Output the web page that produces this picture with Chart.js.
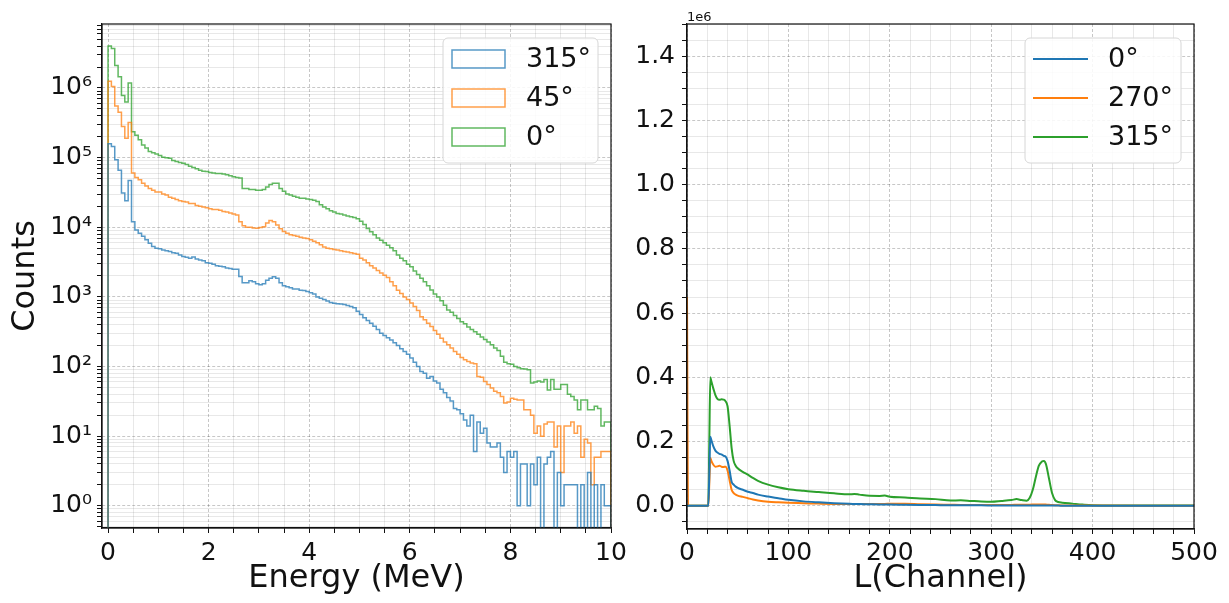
<!DOCTYPE html>
<html>
<head>
<meta charset="utf-8">
<script src="https://cdn.jsdelivr.net/npm/chart.js@4.4.0/dist/chart.umd.min.js"></script>
<style>
  html, body { margin: 0; padding: 0; background: #fff; }
  #wrap { position: relative; width: 1229px; height: 603px; overflow: hidden; }
  canvas { position: absolute; top: 0; }
  #chartEnergy { left: 0; }
  #chartChannel { left: 620px; }
</style>
</head>
<body>
<div id="wrap">
  <canvas id="chartEnergy" width="640" height="603"></canvas>
  <canvas id="chartChannel" width="609" height="603"></canvas>
</div>
<script>
// ---- left panel: energy spectra (150 bins of 1/15 MeV from 0 to 10 MeV) ----
const energyBinWidth = 1 / 15;
const energyLabels = ["315°", "45°", "0°"];

const counts315 = [
  8.4e4, 1.58e5, 1.45e5, 9.3e4, 6.6e4, 3.1e4, 2.4e4, 4.7e4, 1.2e4, 9.1e3,
  8.2e3, 7.4e3, 6.6e3, 5.9e3, 5.3e3, 5.0e3, 4.9e3, 4.7e3, 4.6e3, 4.5e3,
  4.3e3, 4.25e3, 4.0e3, 3.8e3, 3.7e3, 3.6e3, 3.75e3, 3.5e3, 3.4e3, 3.3e3,
  3.1e3, 3.05e3, 2.95e3, 2.8e3, 2.75e3, 2.7e3, 2.6e3, 2.55e3, 2.5e3, 2.5e3,
  1.96e3, 1.6e3, 1.6e3, 1.7e3, 1.65e3, 1.55e3, 1.5e3, 1.55e3, 1.73e3, 1.85e3,
  1.95e3, 1.86e3, 1.6e3, 1.45e3, 1.4e3, 1.35e3, 1.3e3, 1.3e3, 1.25e3, 1.24e3,
  1.2e3, 1.15e3, 1.1e3, 1.0e3, 960, 915, 870, 830, 810, 800,
  790, 780, 750, 730, 700, 620, 560, 500, 460, 420,
  380, 340, 300, 280, 260, 240, 220, 200, 180, 165,
  150, 133, 115, 100, 85, 80, 68, 72, 62, 58,
  47, 42, 36, 32, 25, 24, 21, 17, 14, 20,
  6, 16, 11, 13, 8, 7, 7, 8, 5, 3,
  6, 5, 6, 1, 4, 4, 1, 4, 2, 5,
  0, 4, 5, 6, 0, 3, 1, 2, 2, 2,
  2, 0, 2, 0, 3, 0, 2, 0, 2, 1
];

const counts45 = [
  7.5e5, 1.25e6, 1.05e6, 5.5e5, 4.5e5, 2.8e5, 1.9e5, 3.2e5, 6.0e4, 5.2e4,
  4.8e4, 4.3e4, 3.9e4, 3.6e4, 3.4e4, 3.2e4, 3.2e4, 3.0e4, 2.9e4, 2.7e4,
  2.6e4, 2.5e4, 2.4e4, 2.35e4, 2.3e4, 2.2e4, 2.2e4, 2.05e4, 2.0e4, 1.95e4,
  1.9e4, 1.85e4, 1.8e4, 1.8e4, 1.75e4, 1.68e4, 1.65e4, 1.6e4, 1.55e4, 1.5e4,
  1.2e4, 1.05e4, 1.0e4, 1.0e4, 9.8e3, 9.7e3, 9.9e3, 1.02e4, 1.15e4, 1.25e4,
  1.2e4, 1.08e4, 9.5e3, 8.7e3, 8.2e3, 7.8e3, 7.6e3, 7.4e3, 7.2e3, 7.0e3,
  6.9e3, 6.6e3, 6.3e3, 6.0e3, 5.6e3, 5.2e3, 5.0e3, 4.9e3, 4.8e3, 4.7e3,
  4.6e3, 4.5e3, 4.4e3, 4.3e3, 4.2e3, 4.1e3, 3.6e3, 3.4e3, 3.1e3, 2.8e3,
  2.6e3, 2.4e3, 2.2e3, 2.05e3, 1.9e3, 1.65e3, 1.45e3, 1.25e3, 1.12e3, 1.0e3,
  920, 820, 730, 640, 520, 470, 420, 376, 330, 290,
  255, 225, 205, 185, 165, 150, 135, 125, 118, 112,
  110, 72, 70, 61, 55, 49, 44, 42, 37, 30,
  31, 35, 34, 33, 33, 24, 24, 20, 11, 14,
  10, 15, 16, 16, 7, 14, 3, 14, 14, 16,
  11, 14, 5, 9, 8, 2, 5, 5, 6, 6
];

const counts0 = [
  1.4e6, 4.0e6, 3.7e6, 2.1e6, 1.45e6, 7.8e5, 6.3e5, 1.18e6, 2.36e5, 2.1e5,
  1.8e5, 1.52e5, 1.38e5, 1.22e5, 1.18e5, 1.13e5, 1.07e5, 1.01e5, 1.0e5, 9.8e4,
  9.1e4, 8.8e4, 8.5e4, 8.3e4, 8.0e4, 7.5e4, 7.2e4, 6.9e4, 6.6e4, 6.4e4,
  6.3e4, 6.1e4, 6.0e4, 5.9e4, 5.9e4, 5.8e4, 5.7e4, 5.5e4, 5.3e4, 5.2e4,
  5.1e4, 3.6e4, 3.6e4, 3.5e4, 3.5e4, 3.4e4, 3.4e4, 3.5e4, 3.8e4, 4.1e4,
  4.3e4, 4.3e4, 3.6e4, 3.3e4, 3.0e4, 2.9e4, 2.8e4, 2.7e4, 2.6e4, 2.6e4,
  2.55e4, 2.5e4, 2.45e4, 2.35e4, 2.1e4, 1.95e4, 1.85e4, 1.72e4, 1.65e4, 1.58e4,
  1.55e4, 1.5e4, 1.45e4, 1.42e4, 1.38e4, 1.33e4, 1.22e4, 1.1e4, 9.6e3, 8.6e3,
  7.8e3, 7.0e3, 6.5e3, 6.0e3, 5.5e3, 5.1e3, 4.6e3, 4.0e3, 3.6e3, 3.3e3,
  2.95e3, 2.7e3, 2.35e3, 2.1e3, 1.85e3, 1.65e3, 1.45e3, 1.26e3, 1.1e3, 1.0e3,
  880, 760, 650, 600, 540, 490, 440, 410, 370, 340,
  315, 290, 265, 245, 225, 205, 185, 170, 140, 115,
  110, 108, 100, 96, 93, 92, 90, 58, 60, 62,
  60, 65, 46, 65, 47, 47, 55, 55, 40, 37,
  33, 24, 33, 33, 24, 24, 27, 25, 14, 16
];

const energyMajorTicks = [0, 2, 4, 6, 8, 10];
const energyMinorStep = 0.5;
const countsMajorTicks = [1, 10, 100, 1000, 10000, 100000, 1000000];
const countsMajorLabels = ["10⁰", "10¹", "10²", "10³", "10⁴", "10⁵", "10⁶"];

// ---- right panel: channel spectra ----
const channelLabels = ["0°", "270°", "315°"];
const channels = [
  0, 1, 21, 22, 23, 24, 26, 28, 30, 32,
  34, 36, 38, 40, 42, 44, 46, 48, 50, 55,
  60, 65, 70, 80, 90, 100, 115, 130, 145, 160,
  165, 170, 180, 190, 195, 200, 215, 230, 245, 260,
  270, 280, 290, 300, 310, 320, 325, 330, 335, 338,
  341, 344, 347, 350, 352, 354, 357, 360, 363, 366,
  370, 380, 390, 400, 450, 500
];
const channel0 = [
  0, 0, 0, 100000, 215000, 205000, 185000, 172000, 166000, 162000,
  160000, 156000, 154000, 140000, 110000, 75000, 66000, 60000, 56000, 50000,
  44000, 40000, 35000, 29000, 24000, 19000, 14000, 11000, 8500, 6500,
  6000, 5500, 5000, 4500, 4000, 4000, 3500, 3000, 2500, 2000,
  2000, 1800, 1600, 1500, 1400, 1300, 1300, 1200, 1200, 1100,
  1100, 1100, 1100, 1000, 1000, 1000, 900, 900, 800, 800,
  700, 600, 500, 500, 300, 300
];
const channel270 = [
  650000, 0, 0, 70000, 150000, 140000, 128000, 122000, 123000, 125000,
  122000, 121000, 122000, 110000, 80000, 50000, 40000, 35000, 32000, 28000,
  24000, 20000, 17000, 13000, 11000, 9500, 8300, 7000, 6000, 5800,
  5800, 5700, 5800, 6000, 6000, 6500, 6800, 5000, 4000, 3500,
  3000, 3000, 3000, 3000, 3000, 3000, 3200, 3300, 3500, 3800,
  4000, 4200, 4300, 4400, 4300, 4000, 3500, 2500, 2000, 1800,
  1500, 1200, 1000, 800, 500, 500
];
const channel315 = [
  0, 0, 0, 200000, 400000, 388000, 365000, 345000, 333000, 330000,
  332000, 331000, 326000, 310000, 250000, 180000, 140000, 125000, 117000, 106000,
  97000, 87000, 78000, 66000, 58000, 52000, 47000, 43000, 39000, 36000,
  37000, 35000, 31500, 31000, 32000, 28500, 26000, 23000, 21000, 16500,
  17500, 15500, 13500, 12500, 15000, 18000, 21000, 18000, 16000, 25000,
  50000, 90000, 125000, 138000, 140000, 130000, 85000, 40000, 18000, 12000,
  10000, 7000, 4000, 2000, 1000, 1000
];
const channelMajorTicks = [0, 100, 200, 300, 400, 500];
const channelMinorStep = 20;
const rateMajorTicks = [0, 200000, 400000, 600000, 800000, 1000000, 1200000, 1400000];
const rateMajorLabels = ["0.0", "0.2", "0.4", "0.6", "0.8", "1.0", "1.2", "1.4"];
const rateMinorStep = 50000;

// ---- styling ----
const FONT = "'DejaVu Sans', 'Liberation Sans', sans-serif";
const BLUE = "#1f77b4", ORANGE = "#ff7f0e", GREEN = "#2ca02c";
const MAJOR_GRID = "rgba(0,0,0,0.28)";
const MINOR_GRID = "rgba(0,0,0,0.09)";
const INK = "#111";

function fade(hex, a) {
  const n = parseInt(hex.slice(1), 16);
  return `rgba(${n >> 16},${(n >> 8) & 255},${n & 255},${a})`;
}

function range(start, stop, step) {
  const out = [];
  for (let v = start; v <= stop + step / 1000; v += step) out.push(Math.round(v * 1e6) / 1e6);
  return out;
}

const logFloor = 0.1; // empty bins fall below the axis and are clipped
function histPoints(counts) {
  const pts = [{ x: 0, y: logFloor }];
  counts.forEach((c, i) => pts.push({ x: i * energyBinWidth, y: c > 0 ? c : logFloor }));
  const end = counts.length * energyBinWidth;
  pts.push({ x: end, y: counts[counts.length - 1] || logFloor });
  pts.push({ x: end, y: logFloor });
  return pts;
}

function isPow10(v) {
  const l = Math.log10(v);
  return Math.abs(l - Math.round(l)) < 1e-9;
}

function gridOpts(isMajor) {
  return {
    color: ctx => (ctx.tick && isMajor(ctx.tick.value) ? MAJOR_GRID : MINOR_GRID),
    lineWidth: ctx => (ctx.tick && isMajor(ctx.tick.value) ? 0.8 : 1),
    tickColor: INK,
    tickLength: 5,
    tickWidth: 1
  };
}
function borderOpts(isMajor) {
  return {
    display: true,
    color: INK,
    width: 1.2,
    dash: ctx => (ctx.tick && isMajor(ctx.tick.value) ? [3, 2] : [])
  };
}

// legend box drawn inside the plot, like matplotlib's
const boxLegend = {
  id: "boxLegend",
  afterDraw(chart, args, o) {
    const ctx = chart.ctx;
    ctx.save();
    ctx.beginPath();
    ctx.roundRect(o.x, o.y, o.w, o.h, 5);
    ctx.fillStyle = "rgba(255,255,255,0.85)";
    ctx.fill();
    ctx.strokeStyle = "#d6d6d6";
    ctx.lineWidth = 1;
    ctx.stroke();
    ctx.font = `${o.fontSize}px ${FONT}`;
    ctx.textBaseline = "middle";
    ctx.fillStyle = INK;
    chart.data.datasets.forEach((ds, i) => {
      const cy = o.y + o.firstRow + i * o.rowGap;
      ctx.strokeStyle = ds.borderColor;
      if (o.kind === "patch") {
        ctx.lineWidth = 1.5;
        ctx.strokeRect(o.x + o.handleX, cy - 9, o.handleW, 18);
      } else {
        ctx.lineWidth = 2;
        ctx.beginPath();
        ctx.moveTo(o.x + o.handleX, cy);
        ctx.lineTo(o.x + o.handleX + o.handleW, cy);
        ctx.stroke();
      }
      ctx.fillText(ds.label, o.x + o.textX, cy + 1);
    });
    ctx.restore();
  }
};

const frame = {
  id: "frame",
  afterDatasetsDraw(chart, args, o) {
    const a = chart.chartArea, ctx = chart.ctx;
    ctx.save();
    ctx.strokeStyle = INK;
    ctx.lineWidth = 1.2;
    ctx.strokeRect(a.left, a.top, a.right - a.left, a.bottom - a.top);
    if (o && o.offsetText) {
      ctx.font = `13px ${FONT}`;
      ctx.fillStyle = INK;
      ctx.textBaseline = "alphabetic";
      ctx.fillText(o.offsetText, a.left, a.top - 3);
    }
    ctx.restore();
  }
};

// ---- left chart ----
const energyGrid = range(0, 10, energyMinorStep);
const countsGrid = [];
for (let e = -1; e <= 6; e++) {
  for (let m = 1; m <= 9; m++) {
    const v = m * Math.pow(10, e);
    if (v >= 0.48 && v <= 8.3e6) countsGrid.push(e < 0 ? Math.round(v * 10) / 10 : v);
  }
}
const isEnergyMajor = v => energyMajorTicks.includes(v);

new Chart(document.getElementById("chartEnergy"), {
  type: "line",
  data: {
    datasets: [
      { label: energyLabels[0], data: histPoints(counts315), borderColor: fade(BLUE, 0.75) },
      { label: energyLabels[1], data: histPoints(counts45), borderColor: fade(ORANGE, 0.75) },
      { label: energyLabels[2], data: histPoints(counts0), borderColor: fade(GREEN, 0.75) }
    ].map(d => Object.assign(d, { stepped: "after", borderWidth: 1.5, pointRadius: 0, fill: false }))
  },
  options: {
    responsive: false,
    animation: false,
    events: [],
    layout: { padding: { left: 0, top: 24, right: 29, bottom: 0 } },
    plugins: {
      legend: { display: false },
      tooltip: { enabled: false },
      boxLegend: { x: 443, y: 38, w: 155, h: 125, firstRow: 21, rowGap: 39, handleX: 9, handleW: 53, textX: 83, fontSize: 27, kind: "patch" },
      frame: {}
    },
    scales: {
      x: {
        type: "linear",
        min: -0.12,
        max: 10,
        afterBuildTicks: s => { s.ticks = energyGrid.map(v => ({ value: v })); },
        afterFit: s => { s.height = 75; },
        ticks: {
          autoSkip: false, maxRotation: 0, padding: 5, color: INK,
          font: { family: FONT, size: 25 },
          callback: v => (isEnergyMajor(v) ? String(v) : "")
        },
        grid: gridOpts(isEnergyMajor),
        border: borderOpts(isEnergyMajor),
        title: { display: true, text: "Energy (MeV)", color: INK, font: { family: FONT, size: 32 }, padding: { top: 0, bottom: 5 } }
      },
      y: {
        type: "logarithmic",
        min: 0.48,
        max: 8.3e6,
        afterBuildTicks: s => { s.ticks = countsGrid.map(v => ({ value: v })); },
        afterFit: s => { s.width = 102; },
        ticks: {
          autoSkip: false, padding: 5, color: INK,
          font: { family: FONT, size: 25 },
          callback: v => {
            const i = countsMajorTicks.findIndex(t => Math.abs(t - v) < 1e-6 * t);
            return i >= 0 ? countsMajorLabels[i] : "";
          }
        },
        grid: gridOpts(isPow10),
        border: borderOpts(isPow10),
        title: { display: true, text: "Counts", color: INK, font: { family: FONT, size: 32 }, padding: { top: 6, bottom: 0 } }
      }
    }
  },
  plugins: [boxLegend, frame]
});

// ---- right chart ----
const channelGrid = range(0, 500, channelMinorStep);
const rateGrid = range(-rateMinorStep, 1500000, rateMinorStep);
const isChannelMajor = v => channelMajorTicks.includes(v);
const isRateMajor = v => rateMajorTicks.includes(v);
const pairs = ys => channels.map((c, i) => ({ x: c, y: ys[i] }));

new Chart(document.getElementById("chartChannel"), {
  type: "line",
  data: {
    datasets: [
      { label: channelLabels[0], data: pairs(channel0), borderColor: BLUE },
      { label: channelLabels[1], data: pairs(channel270), borderColor: ORANGE },
      { label: channelLabels[2], data: pairs(channel315), borderColor: GREEN }
    ].map(d => Object.assign(d, { borderWidth: 2, pointRadius: 0, cubicInterpolationMode: "monotone", fill: false }))
  },
  options: {
    responsive: false,
    animation: false,
    events: [],
    layout: { padding: { left: 0, top: 24, right: 35, bottom: 0 } },
    plugins: {
      legend: { display: false },
      tooltip: { enabled: false },
      boxLegend: { x: 405, y: 38, w: 156, h: 125, firstRow: 21, rowGap: 39, handleX: 8, handleW: 55, textX: 83, fontSize: 27, kind: "line" },
      frame: { offsetText: "1e6" }
    },
    scales: {
      x: {
        type: "linear",
        min: 0,
        max: 500,
        afterBuildTicks: s => { s.ticks = channelGrid.map(v => ({ value: v })); },
        afterFit: s => { s.height = 74; },
        ticks: {
          autoSkip: false, maxRotation: 0, padding: 4, color: INK,
          font: { family: FONT, size: 25 },
          callback: v => (isChannelMajor(v) ? String(v) : "")
        },
        grid: gridOpts(isChannelMajor),
        border: borderOpts(isChannelMajor),
        title: { display: true, text: "L(Channel)", color: INK, font: { family: FONT, size: 32 }, padding: { top: 0, bottom: 5 } }
      },
      y: {
        type: "linear",
        min: -72000,
        max: 1500000,
        afterBuildTicks: s => { s.ticks = rateGrid.map(v => ({ value: v })); },
        afterFit: s => { s.width = 67; },
        ticks: {
          autoSkip: false, padding: 7, color: INK,
          font: { family: FONT, size: 25 },
          callback: v => {
            const i = rateMajorTicks.indexOf(v);
            return i >= 0 ? rateMajorLabels[i] : "";
          }
        },
        grid: gridOpts(isRateMajor),
        border: borderOpts(isRateMajor)
      }
    }
  },
  plugins: [boxLegend, frame]
});
</script>
</body>
</html>
